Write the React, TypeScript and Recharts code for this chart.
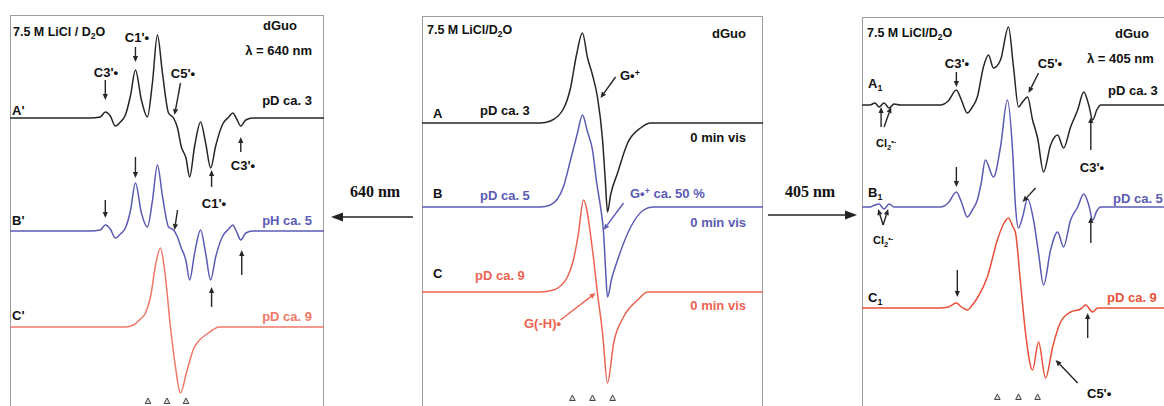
import React from 'react';
import { ComposedChart, Line, XAxis, YAxis, ReferenceLine, Scatter } from 'recharts';

type Pt = [number, number];
type Seg = [number, number, number, number];

// ---------- Panel 1 : lambda = 640 nm  (field in G, intensity a.u.) ----------
const p1A: Pt[] = [[-100,0],[-48.9,0],[-42.5,1],[-39.3,6],[-36.1,2],[-32.9,-8],[-29.7,-4],[-26.5,3],[-23.3,22],[-20.1,48],[-16.3,18],[-12.5,1],[-9.3,35],[-6.1,83],[-2.9,45],[1.0,5],[4.2,0],[6.7,-10],[9.3,-30],[10.5,-34],[12.1,-40],[14.4,-59],[17.6,-28],[21.4,-4],[24.6,-25],[27.8,-50],[31.0,-28],[35.5,-6],[39.3,1],[41.9,5],[44.4,-1],[47.0,-8],[50.2,-2],[54.6,0],[100,0]];
const p1B: Pt[] = [[-100,0],[-48.9,0],[-42.5,1],[-39.3,6],[-36.1,2],[-32.9,-7],[-29.7,-3],[-26.5,3],[-23.3,20],[-20.1,48],[-16.3,18],[-12.5,4],[-9.3,30],[-6.1,66],[-2.9,35],[1.0,4],[4.2,1],[6.7,-6],[9.3,-18],[10.5,-22],[12.1,-30],[14.4,-49],[17.6,-22],[21.4,1],[24.6,-22],[27.8,-49],[31.0,-26],[35.5,-5],[39.3,2],[41.9,6],[44.4,-1],[47.0,-9],[50.2,-2],[54.6,0],[100,0]];
const p1C: Pt[] = [[-100,0],[-26.5,0],[-21.4,2],[-16.9,8],[-13.7,14],[-10.5,30],[-7.3,62],[-4.2,79],[-1.6,58],[2.2,0],[5.4,-40],[8.6,-66],[12.5,-45],[16.9,-22],[21.4,-12],[24.6,-8],[29.1,-3],[32.9,0],[100,0]];
const p1Stack = [297, 184, 88];
const p1Markers = [-12.1, 0, 12.1];
const p1Arrows: Seg[] = [
  [-39.3,335,-39.3,315],[-20.1,368,-20.1,353],[8.6,332,4.8,300],[47.0,263,47.0,278],[28.4,228,28.4,245],
  [-39.3,215,-39.3,197],[-20.1,258,-20.1,237],[6.7,205,4.8,185],[28.4,108,28.4,128],[47.6,140,47.6,165],
];

// ---------- Panel 2 : 0 min vis ----------
const p2A: Pt[] = [[-100,0],[-30.6,0],[-24.7,2],[-17.1,14],[-12.9,35],[-9.4,68],[-5.9,90],[-2.9,65],[0,48],[2.9,26],[5.9,-17],[7.6,-60],[8.8,-89],[10.6,-72],[14.7,-50],[20.6,-20],[28.2,-5],[34.1,0],[100,0]];
const p2B: Pt[] = [[-100,0],[-30.6,0],[-24.7,2],[-17.1,20],[-12.9,47],[-8.8,74],[-5.9,92],[-2.9,75],[0,57],[2.4,25],[4.7,0],[6.5,-26],[7.6,-60],[8.8,-90],[11.2,-72],[14.7,-53],[22.4,-20],[30,-3],[35.3,0],[100,0]];
const p2C: Pt[] = [[-100,0],[-30.6,0],[-22.9,2],[-18.8,6],[-14.7,15],[-11.2,32],[-8.2,59],[-5.3,92],[0,42],[2.9,-1],[5.9,-41],[8.8,-91],[12.4,-51],[18.2,-25],[26.5,-8],[32.4,0],[100,0]];
const p2Stack = [293, 209, 124];
const p2Markers = [-11.8, 0, 11.8];
const p2ArrowsBlack: Seg[] = [[13.5,339,4.7,318]];
const p2ArrowsBlue: Seg[] = [[18.2,213,6.5,186]];
const p2ArrowsRed: Seg[] = [[-18.8,96,1.8,123]];

// ---------- Panel 3 : lambda = 405 nm ----------
const p3A: Pt[] = [[-100,0],[-94.9,0],[-91.7,2],[-89.1,-2],[-85.9,2],[-82.7,-3],[-79.5,1],[-75.6,0],[-50,0],[-44.9,4],[-39.7,15],[-36.5,5],[-32.7,-8],[-29.5,-2],[-26.3,8],[-22.4,38],[-19.2,50],[-16,37],[-11.5,45],[-6.4,78],[-3.2,38],[0,-2],[2.6,3],[5.8,8],[9,-15],[12.2,-33],[16,-67],[20.5,-40],[25,-30],[28.8,-43],[33.3,-22],[37.8,-5],[41.7,13],[44.9,0],[47.4,-15],[50,-5],[52.6,0],[100,0]];
const p3B: Pt[] = [[-100,0],[-94.9,0],[-91.7,2],[-89.1,3],[-85.9,-2],[-82.7,3],[-79.5,0],[-50,0],[-44.9,4],[-39.7,15],[-36.5,5],[-32.7,-10],[-29.5,-3],[-26.3,7],[-23.7,25],[-21.2,47],[-16,30],[-11.5,60],[-7.1,107],[-3.8,57],[-1.9,0],[0,-21],[2.6,-10],[5.8,8],[9.6,-13],[12.8,-46],[16,-78],[20.5,-43],[25,-25],[28.8,-40],[33.3,-13],[37.8,0],[41.7,13],[44.9,2],[47.4,-13],[50,-4],[52.6,0],[100,0]];
const p3C: Pt[] = [[-100,0],[-50,0],[-44.9,1],[-39.7,5],[-36.5,1],[-32.7,-2],[-29.5,3],[-26.3,10],[-19.9,31],[-13.5,68],[-9.6,84],[-6.4,90],[-3.8,82],[-1.9,75],[1.3,25],[4.5,-25],[9,-62],[12.8,-34],[17.3,-70],[21.8,-39],[26.9,-14],[33.3,-4],[39.7,-1],[42.9,3],[47.4,-4],[50.6,0],[100,0]];
const p3Stack = [312, 210, 109];
const p3Markers = [-13.5, 0, 12.2];
const p3Arrows: Seg[] = [
  [-39.7,345,-39.7,330],[12.8,344,6.4,324],[-87.8,290,-87.8,310],[-85.9,290,-81.4,310],[46.2,267,46.2,300],
  [-39.7,250,-39.7,230],[10.9,229,2.6,215],[-86.5,192,-89.7,208],[-86.5,192,-83.3,208],[46.2,174,46.2,200],
  [-39.1,147,-39.1,120],[44.2,79,44.2,104],[37.8,34,23.7,57],
];

const BLACK = '#262626';
const BLUE = '#5b5bb5';
const RED1 = '#f07868';
const RED2 = '#ec6452';
const RED3 = '#e8503a';
const SANS = "'Liberation Sans Narrow','Arial Narrow','Liberation Sans',Arial,sans-serif";
const SERIF = "'Liberation Serif','Times New Roman',serif";

const toSeries = (pts: Pt[], base: number) => pts.map(([x, y]) => ({ x, y: y + base }));

const makeArrow = (color: string) => (props: any) => {
  const { x1, y1, x2, y2 } = props;
  const dx = x2 - x1, dy = y2 - y1;
  const len = Math.hypot(dx, dy) || 1;
  const ux = dx / len, uy = dy / len;
  const hl = 6, hw = 2.6;
  const bx = x2 - ux * hl, by = y2 - uy * hl;
  const pts = `${x2},${y2} ${bx - uy * hw},${by + ux * hw} ${bx + uy * hw},${by - ux * hw}`;
  return (
    <g>
      <line x1={x1} y1={y1} x2={bx} y2={by} stroke={color} strokeWidth={1.4} />
      <polygon points={pts} fill={color} />
    </g>
  );
};

const TriShape = (props: any) => {
  const { cx, cy } = props;
  return <polygon points={`${cx},${cy - 3} ${cx - 2.8},${cy + 2.5} ${cx + 2.8},${cy + 2.5}`} fill="#ddd" stroke="#444" strokeWidth={1} />;
};

interface PanelProps {
  left: number; top: number; width: number;
  traces: { pts: Pt[]; base: number; color: string }[];
  arrows: { segs: Seg[]; color: string }[];
  markers: number[]; markerY: number;
}

const H = 400;

const Panel = ({ left, top, width, traces, arrows, markers, markerY }: PanelProps) => (
  <div style={{ position: 'absolute', left, top, width, height: H }}>
    <div style={{ position: 'absolute', left: 0, top: 0, width, height: H, border: '1px solid #9c9c9c', boxSizing: 'border-box' }} />
    <ComposedChart width={width} height={H} margin={{ top: 0, right: 0, bottom: 0, left: 0 }}>
      <XAxis hide type="number" dataKey="x" domain={[-100, 100]} allowDataOverflow />
      <YAxis hide type="number" domain={[0, H]} allowDataOverflow />
      {traces.map((t, i) => (
        <Line key={i} data={toSeries(t.pts, t.base)} type="monotone" dataKey="y" stroke={t.color}
          strokeWidth={1.5} dot={false} activeDot={false} isAnimationActive={false} />
      ))}
      <Scatter data={markers.map((x) => ({ x, y: markerY }))} dataKey="y" shape={TriShape} isAnimationActive={false} />
      {arrows.flatMap((g, gi) => g.segs.map((s, i) => (
        <ReferenceLine key={`${gi}-${i}`} ifOverflow="visible"
          segment={[{ x: s[0], y: s[1] }, { x: s[2], y: s[3] }]} shape={makeArrow(g.color)} />
      )))}
    </ComposedChart>
  </div>
);

const T = ({ x, y, a = 'start', c = '#111', s = 13, serif = false, children }: any) => (
  <div style={{
    position: 'absolute', left: x, top: y,
    transform: `translate(${a === 'start' ? 0 : a === 'middle' ? -50 : -100}%, -50%)`,
    color: c, fontSize: s, fontWeight: 700, fontFamily: serif ? SERIF : SANS,
    whiteSpace: 'nowrap', lineHeight: 1,
  }}>{children}</div>
);

const Sub = ({ children }: any) => <span style={{ fontSize: '0.68em', position: 'relative', top: '0.35em' }}>{children}</span>;
const Sup = ({ children }: any) => <span style={{ fontSize: '0.68em', position: 'relative', top: '-0.45em' }}>{children}</span>;

export default function App() {
  return (
    <div style={{ position: 'absolute', left: 0, top: 0, width: 1164, height: 406, overflow: 'hidden', background: '#fff' }}>
      <Panel left={10} top={15} width={314}
        traces={[{ pts: p1A, base: p1Stack[0], color: BLACK }, { pts: p1B, base: p1Stack[1], color: BLUE }, { pts: p1C, base: p1Stack[2], color: RED1 }]}
        arrows={[{ segs: p1Arrows, color: BLACK }]} markers={p1Markers} markerY={14} />
      <Panel left={422} top={16} width={341}
        traces={[{ pts: p2A, base: p2Stack[0], color: BLACK }, { pts: p2B, base: p2Stack[1], color: BLUE }, { pts: p2C, base: p2Stack[2], color: RED2 }]}
        arrows={[{ segs: p2ArrowsBlack, color: BLACK }, { segs: p2ArrowsBlue, color: BLUE }, { segs: p2ArrowsRed, color: RED2 }]}
        markers={p2Markers} markerY={18} />
      <Panel left={862} top={17} width={313}
        traces={[{ pts: p3A, base: p3Stack[0], color: BLACK }, { pts: p3B, base: p3Stack[1], color: BLUE }, { pts: p3C, base: p3Stack[2], color: RED3 }]}
        arrows={[{ segs: p3Arrows, color: BLACK }]} markers={p3Markers} markerY={20} />

      {/* big arrows between panels */}
      <svg width={1164} height={406} style={{ position: 'absolute', left: 0, top: 0, pointerEvents: 'none' }}>
        <line x1={413} y1={217} x2={341} y2={217} stroke="#222" strokeWidth={1.6} />
        <polygon points="331,217 343,212.5 343,221.5" fill="#222" />
        <line x1={768} y1={215} x2={846} y2={215} stroke="#222" strokeWidth={1.6} />
        <polygon points="857,215 845,210.5 845,219.5" fill="#222" />
      </svg>
      <T x={375} y={192} a="middle" s={16} serif>640 nm</T>
      <T x={810} y={192} a="middle" s={16} serif>405 nm</T>

      {/* panel 1 labels */}
      <T x={13} y={32} s={12.5}>7.5 M LiCl / D<Sub>2</Sub>O</T>
      <T x={297} y={25} a="end">dGuo</T>
      <T x={312} y={50} a="end">λ = 640 nm</T>
      <T x={106} y={72} a="middle">C3'•</T>
      <T x={137} y={37} a="middle">C1'•</T>
      <T x={183} y={73} a="middle">C5'•</T>
      <T x={12} y={110}>A'</T>
      <T x={312} y={100} a="end">pD ca. 3</T>
      <T x={243} y={165} a="middle">C3'•</T>
      <T x={214} y={203} a="middle">C1'•</T>
      <T x={12} y={220}>B'</T>
      <T x={312} y={220} a="end" c={BLUE}>pH ca. 5</T>
      <T x={12} y={315}>C'</T>
      <T x={312} y={316} a="end" c={RED1}>pD ca. 9</T>

      {/* panel 2 labels */}
      <T x={427} y={30} s={12.5}>7.5 M LiCl/D<Sub>2</Sub>O</T>
      <T x={746} y={33} a="end">dGuo</T>
      <T x={433} y={113}>A</T>
      <T x={480} y={110}>pD ca. 3</T>
      <T x={620} y={75}>G•<Sup>+</Sup></T>
      <T x={746} y={137} a="end">0 min vis</T>
      <T x={433} y={193}>B</T>
      <T x={480} y={195} c={BLUE}>pD ca. 5</T>
      <T x={630} y={193} c={BLUE}>G•<Sup>+</Sup> ca. 50 %</T>
      <T x={746} y={222} a="end" c={BLUE}>0 min vis</T>
      <T x={433} y={273}>C</T>
      <T x={475} y={275} c={RED2}>pD ca. 9</T>
      <T x={524} y={323} c={RED2}>G(-H)•</T>
      <T x={746} y={305} a="end" c={RED2}>0 min vis</T>

      {/* panel 3 labels */}
      <T x={867} y={33} s={12.5}>7.5 M LiCl/D<Sub>2</Sub>O</T>
      <T x={1115} y={33}>dGuo</T>
      <T x={1087} y={58}>λ = 405 nm</T>
      <T x={957} y={63} a="middle">C3'•</T>
      <T x={1050} y={63} a="middle">C5'•</T>
      <T x={868} y={83}>A<Sub>1</Sub></T>
      <T x={1108} y={90}>pD ca. 3</T>
      <T x={876} y={143} s={11}>Cl<Sub>2</Sub><Sup>•-</Sup></T>
      <T x={1092} y={167} a="middle">C3'•</T>
      <T x={868} y={192}>B<Sub>1</Sub></T>
      <T x={1113} y={198} c={BLUE}>pD ca. 5</T>
      <T x={873} y={240} s={11}>Cl<Sub>2</Sub><Sup>•-</Sup></T>
      <T x={868} y={297}>C<Sub>1</Sub></T>
      <T x={1107} y={297} c={RED3}>pD ca. 9</T>
      <T x={1087} y={393}>C5'•</T>
    </div>
  );
}
